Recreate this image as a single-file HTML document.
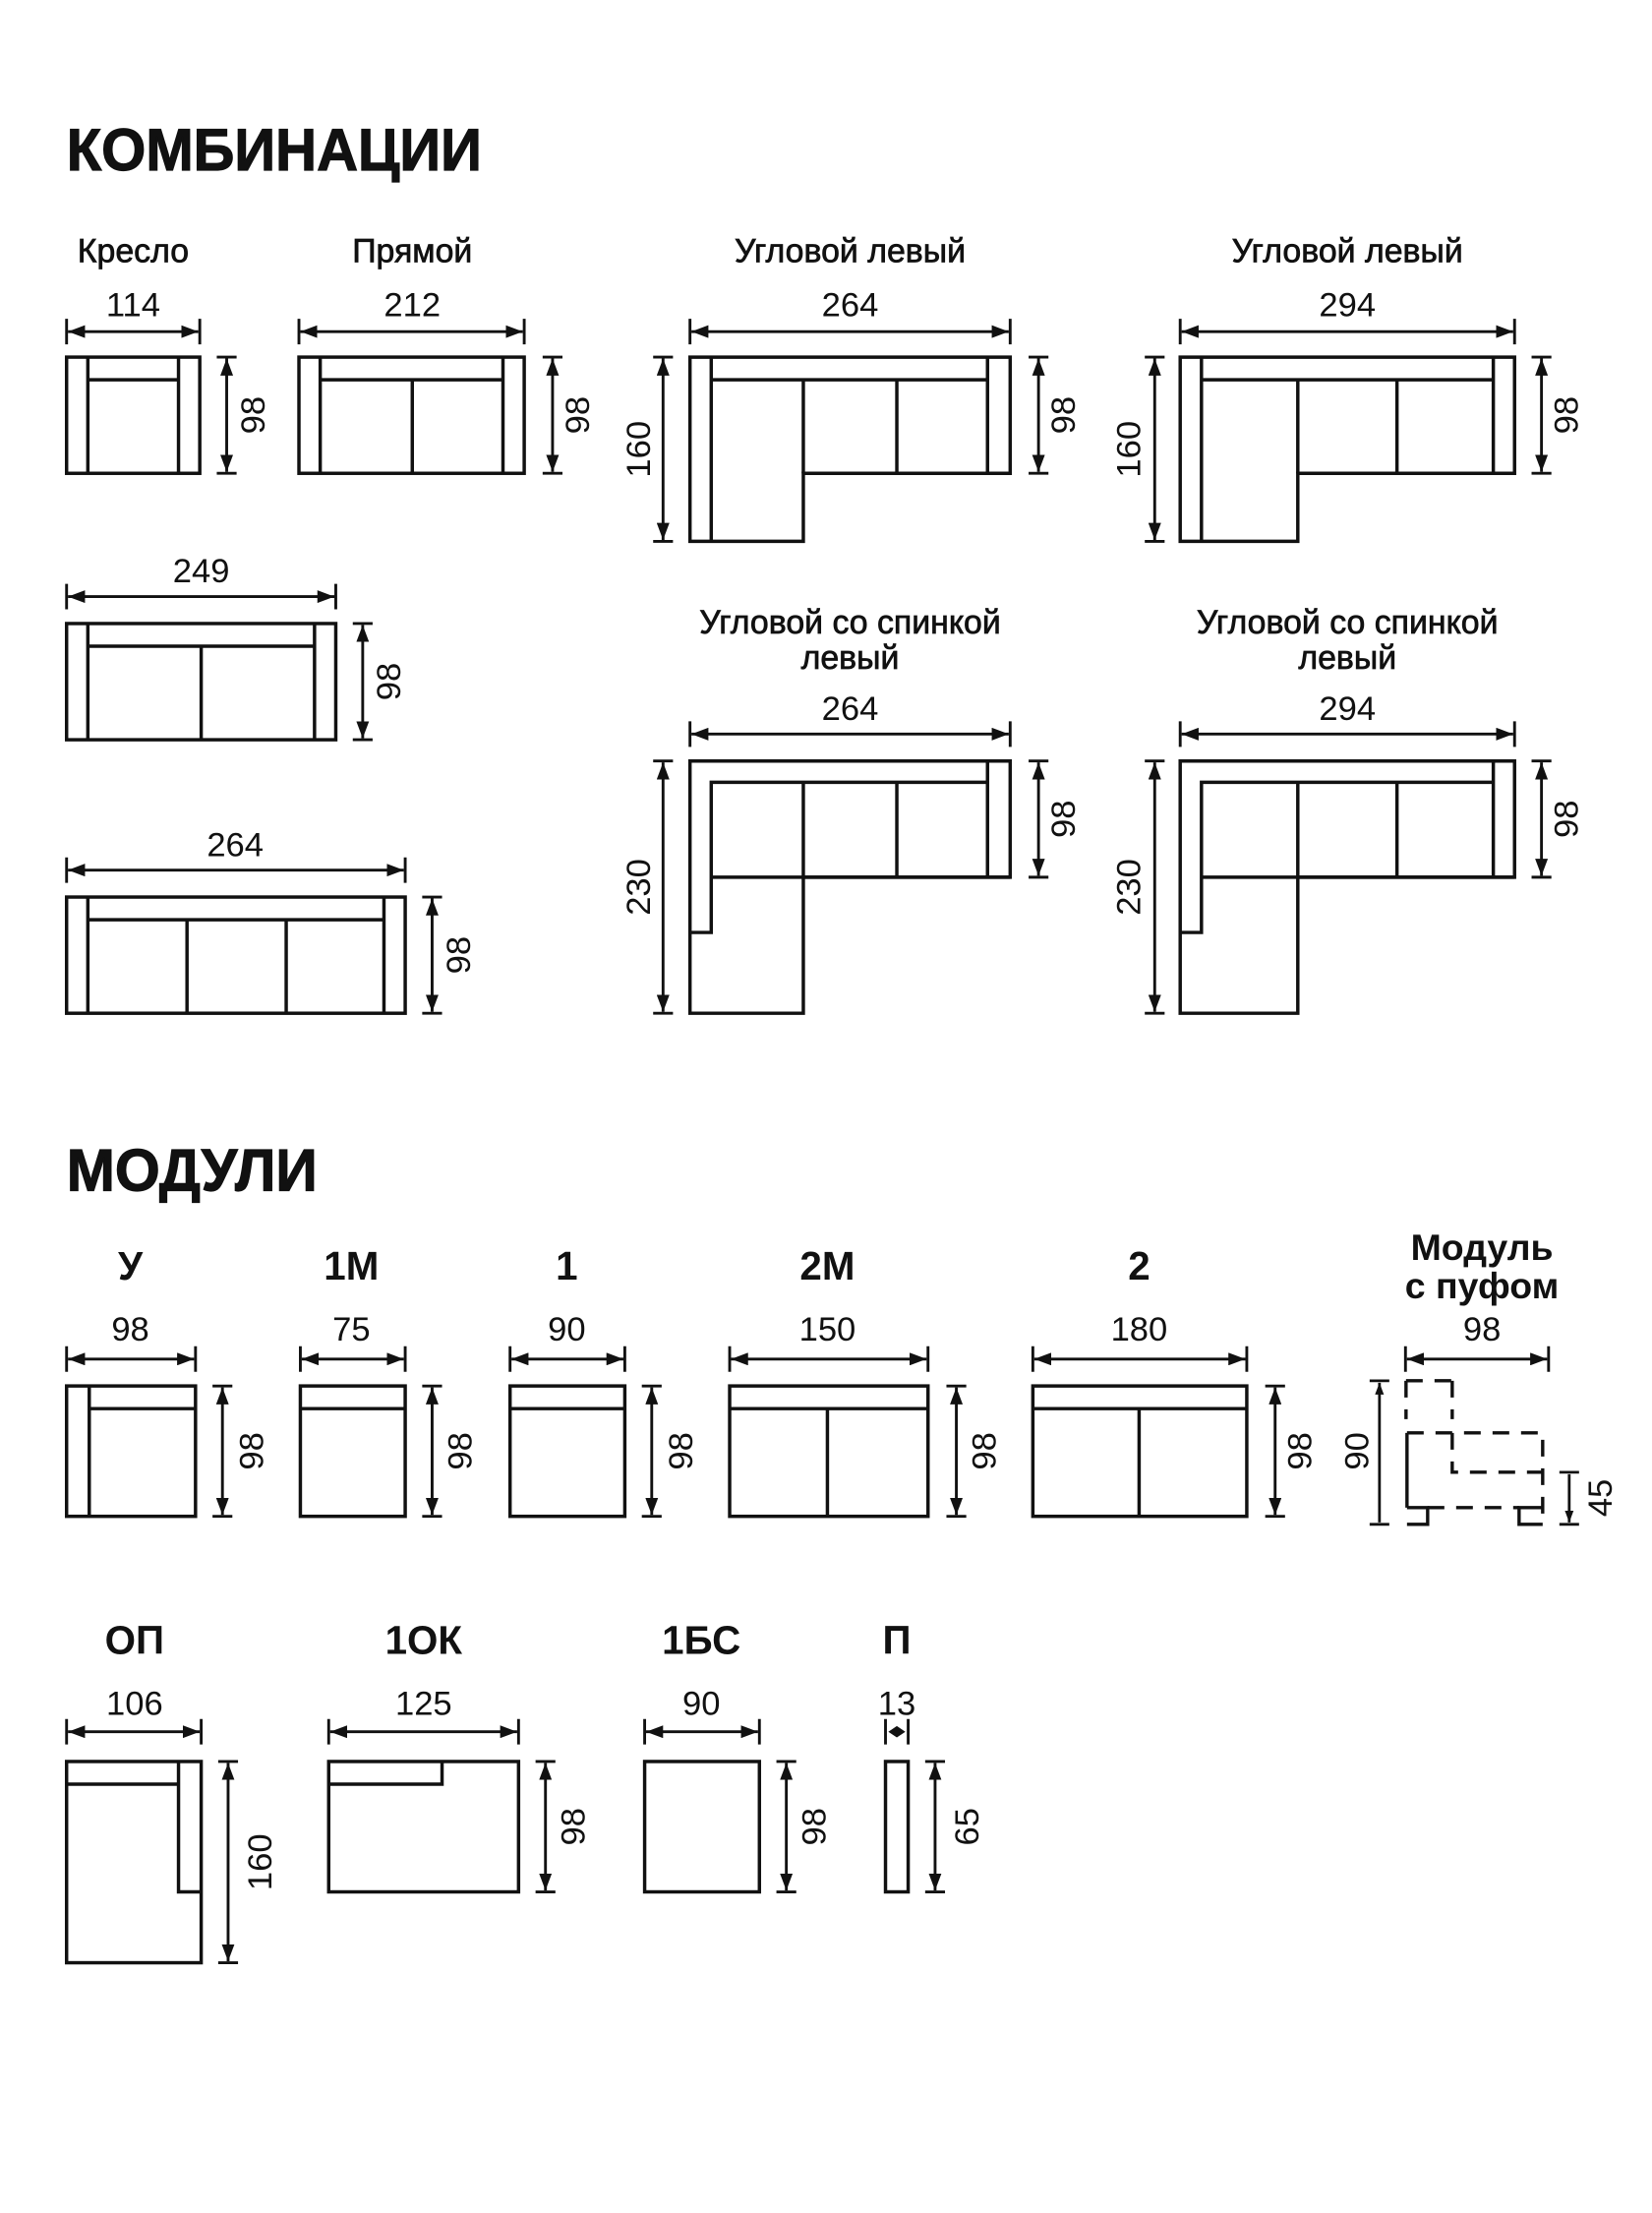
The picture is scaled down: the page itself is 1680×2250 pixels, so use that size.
<!DOCTYPE html>
<html><head><meta charset="utf-8"><style>
html,body{margin:0;padding:0;background:#fff;}
svg{display:block;}
text{font-family:"Liberation Sans","DejaVu Sans",sans-serif;fill:#111;}
.t{font-weight:bold;font-size:42px;stroke:#111;stroke-width:0.8;}
.l{font-size:23.5px;stroke:#111;stroke-width:0.5;}
.b{font-weight:bold;font-size:28px;}
.n{font-size:24px;}
</style></head><body>
<svg width="1680" height="2250" viewBox="0 0 1166 1561.6" preserveAspectRatio="none" xmlns="http://www.w3.org/2000/svg">
<defs>
<marker id="a" viewBox="0 0 12 9" refX="12" refY="4.5" markerWidth="12" markerHeight="9" markerUnits="userSpaceOnUse" orient="auto-start-reverse"><path d="M0,0 L12,4.5 L0,9z" fill="#111"/></marker>
</defs>
<g fill="none" stroke="#111" stroke-width="2.4">
<rect x="47" y="252" width="94" height="82"/>
<path d="M62 252V334M126 252V334M62 268H126"/>
<rect x="211" y="252" width="159" height="82"/>
<path d="M226 252V334M355 252V334M226 268H355M291 268V334"/>
<path d="M487 252H713V334H567V382H487Z"/>
<path d="M502 252V382M697 252V334M502 268H697M567 268V334M633 268V334"/>
<path d="M833 252H1069V334H916V382H833Z"/>
<path d="M848 252V382M1054 252V334M848 268H1054M916 268V334M986 268V334"/>
<rect x="47" y="440" width="190" height="82"/>
<path d="M62 440V522M222 440V522M62 456H222M142 456V522"/>
<rect x="47" y="633" width="239" height="82"/>
<path d="M62 633V715M271 633V715M62 649H271M132 649V715M202 649V715"/>
<path d="M487 537H713V619H567V715H487Z"/>
<path d="M487 658H502V552H697V619M697 537V552M502 619H713M567 552V619M633 552V619"/>
<path d="M833 537H1069V619H916V715H833Z"/>
<path d="M833 658H848V552H1054V619M1054 537V552M848 619H1069M916 552V619M986 552V619"/>
<rect x="47" y="978" width="91" height="92"/><path d="M63 978V1070M63 994H138"/>
<rect x="212" y="978" width="74" height="92"/><path d="M212 994H286"/>
<rect x="360" y="978" width="81" height="92"/><path d="M360 994H441"/>
<rect x="515" y="978" width="140" height="92"/><path d="M515 994H655M584 994V1070"/>
<rect x="729" y="978" width="151" height="92"/><path d="M729 994H880M804 994V1070"/>
<rect x="47" y="1243" width="95" height="142"/><path d="M47 1259H126M126 1243V1335H142"/>
<rect x="232" y="1243" width="134" height="92"/><path d="M232 1259H312V1243"/>
<rect x="455" y="1243" width="81" height="92"/>
<rect x="625" y="1243" width="16" height="92"/>
</g>

<g fill="none" stroke="#111" stroke-width="2">
<g marker-start="url(#a)" marker-end="url(#a)">
<path d="M48 234H140"/><path d="M212 234H369"/><path d="M488 234H712"/><path d="M834 234H1068"/>
<path d="M48 421H236"/><path d="M48 614H285"/><path d="M488 518H712"/><path d="M834 518H1068"/>
<path d="M160 253V333"/><path d="M390 253V333"/><path d="M468 253V381"/><path d="M733 253V333"/>
<path d="M815 253V381"/><path d="M1088 253V333"/><path d="M256 441V521"/><path d="M305 634V714"/>
<path d="M468 538V714"/><path d="M733 538V618"/><path d="M815 538V714"/><path d="M1088 538V618"/>
<path d="M48 959H137"/><path d="M213 959H285"/><path d="M361 959H440"/><path d="M516 959H654"/><path d="M730 959H879"/><path d="M993 959H1092"/>
<path d="M157 979V1069"/><path d="M305 979V1069"/><path d="M460 979V1069"/><path d="M675 979V1069"/><path d="M900 979V1069"/>
<path d="M48 1222H141"/><path d="M233 1222H365"/><path d="M456 1222H535"/>
<path d="M161 1244V1384"/><path d="M385 1244V1334"/><path d="M555 1244V1334"/><path d="M660 1244V1334"/>
</g>
<path d="M47 225V243M141 225V243M211 225V243M370 225V243M487 225V243M713 225V243M833 225V243M1069 225V243
M47 412V430M237 412V430M47 605V623M286 605V623M487 509V527M713 509V527M833 509V527M1069 509V527
M153 252H167M153 334H167M383 252H397M383 334H397M461 252H475M461 382H475M726 252H740M726 334H740
M808 252H822M808 382H822M1081 252H1095M1081 334H1095M249 440H263M249 522H263M298 633H312M298 715H312
M461 537H475M461 715H475M726 537H740M726 619H740M808 537H822M808 715H822M1081 537H1095M1081 619H1095
M47 950V968M138 950V968M212 950V968M286 950V968M360 950V968M441 950V968M515 950V968M655 950V968M729 950V968M880 950V968M992 950V968M1093 950V968
M150 978H164M150 1070H164M298 978H312M298 1070H312M453 978H467M453 1070H467M668 978H682M668 1070H682M893 978H907M893 1070H907
M47 1213V1231M142 1213V1231M232 1213V1231M366 1213V1231M455 1213V1231M536 1213V1231M625 1213V1231M641 1213V1231
M154 1243H168M154 1385H168M378 1243H392M378 1335H392M548 1243H562M548 1335H562M653 1243H667M653 1335H667"/>
</g>
<path d="M627 1222L633 1218L639 1222L633 1226Z" fill="#111"/>

<g transform="scale(0.69397)" fill="none" stroke="#111" stroke-width="3.4">
<path d="M1430 1404V1443M1477 1404V1443M1430 1404H1477" stroke-dasharray="17 12"/>
<path d="M1431 1457V1533M1431 1533H1452V1550H1431" />
<path d="M1431 1457H1569V1550M1477 1457V1497H1569M1452 1533H1545" stroke-dasharray="17 12"/>
<path d="M1569 1533H1545V1550H1569"/>
<path d="M1403 1406V1548M1596 1499V1548" stroke-width="2.8" marker-start="url(#a)" marker-end="url(#a)"/>
<path d="M1393 1404H1413M1393 1550H1413M1586 1497H1606M1586 1550H1606" stroke-width="2.8"/>
</g>

<text class="t" x="47" y="120" textLength="293" lengthAdjust="spacingAndGlyphs">КОМБИНАЦИИ</text>
<text class="t" x="47" y="840" textLength="177" lengthAdjust="spacingAndGlyphs">МОДУЛИ</text>
<g text-anchor="middle">
<text class="l" x="94" y="185">Кресло</text>
<text class="l" x="291" y="185">Прямой</text>
<text class="l" x="600" y="185">Угловой левый</text>
<text class="l" x="951" y="185">Угловой левый</text>
<text class="l" x="600" y="447">Угловой со спинкой</text>
<text class="l" x="600" y="472">левый</text>
<text class="l" x="951" y="447">Угловой со спинкой</text>
<text class="l" x="951" y="472">левый</text>
<text class="n" x="94" y="223">114</text>
<text class="n" x="291" y="223">212</text>
<text class="n" x="600" y="223">264</text>
<text class="n" x="951" y="223">294</text>
<text class="n" x="142" y="411">249</text>
<text class="n" x="166" y="604">264</text>
<text class="n" x="600" y="508">264</text>
<text class="n" x="951" y="508">294</text>
<text class="b" x="92" y="903">У</text>
<text class="b" x="248" y="903">1М</text>
<text class="b" x="400" y="903">1</text>
<text class="b" x="584" y="903">2М</text>
<text class="b" x="804" y="903">2</text>
<text class="b" x="1046" y="889" style="font-size:26px">Модуль</text>
<text class="b" x="1046" y="916" style="font-size:26px">с пуфом</text>
<text class="n" x="92" y="946">98</text>
<text class="n" x="248" y="946">75</text>
<text class="n" x="400" y="946">90</text>
<text class="n" x="584" y="946">150</text>
<text class="n" x="804" y="946">180</text>
<text class="n" x="1046" y="946">98</text>
<text class="b" x="95" y="1167">ОП</text>
<text class="b" x="299" y="1167">1ОК</text>
<text class="b" x="495" y="1167">1БС</text>
<text class="b" x="633" y="1167">П</text>
<text class="n" x="95" y="1210">106</text>
<text class="n" x="299" y="1210">125</text>
<text class="n" x="495" y="1210">90</text>
<text class="n" x="633" y="1210">13</text>
</g>
<g text-anchor="middle" dominant-baseline="central" class="n">
<text transform="translate(179,293) rotate(-90)">98</text>
<text transform="translate(408,293) rotate(-90)">98</text>
<text transform="translate(451,317) rotate(-90)">160</text>
<text transform="translate(751,293) rotate(-90)">98</text>
<text transform="translate(797,317) rotate(-90)">160</text>
<text transform="translate(1106,293) rotate(-90)">98</text>
<text transform="translate(275,481) rotate(-90)">98</text>
<text transform="translate(324,674) rotate(-90)">98</text>
<text transform="translate(451,626) rotate(-90)">230</text>
<text transform="translate(751,578) rotate(-90)">98</text>
<text transform="translate(797,626) rotate(-90)">230</text>
<text transform="translate(1106,578) rotate(-90)">98</text>
<text transform="translate(178,1024) rotate(-90)">98</text>
<text transform="translate(325,1024) rotate(-90)">98</text>
<text transform="translate(481,1024) rotate(-90)">98</text>
<text transform="translate(695,1024) rotate(-90)">98</text>
<text transform="translate(918,1024) rotate(-90)">98</text>
<text transform="translate(958,1024) rotate(-90)">90</text>
<text transform="translate(1130,1057) rotate(-90)">45</text>
<text transform="translate(184,1314) rotate(-90)">160</text>
<text transform="translate(405,1289) rotate(-90)">98</text>
<text transform="translate(575,1289) rotate(-90)">98</text>
<text transform="translate(683,1289) rotate(-90)">65</text>
</g>
</svg>
</body></html>
